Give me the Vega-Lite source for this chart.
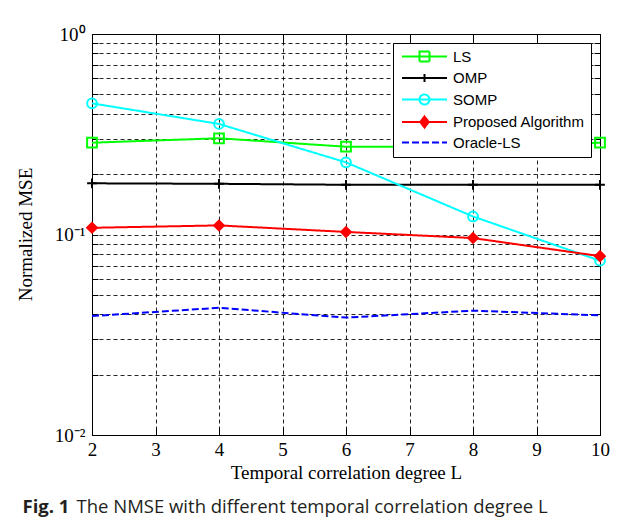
{
  "$schema": "https://vega.github.io/schema/vega-lite/v6.json",
  "width": 508,
  "height": 401,
  "autosize": "none",
  "padding": {"left": 92, "top": 34, "right": 23, "bottom": 89},
  "background": "white",
  "data": {"values": [
    {"L": 2, "series": "LS", "mse": 0.287},
    {"L": 4, "series": "LS", "mse": 0.302},
    {"L": 6, "series": "LS", "mse": 0.274},
    {"L": 8, "series": "LS", "mse": 0.274},
    {"L": 10, "series": "LS", "mse": 0.287},
    {"L": 2, "series": "OMP", "mse": 0.180},
    {"L": 4, "series": "OMP", "mse": 0.179},
    {"L": 6, "series": "OMP", "mse": 0.177},
    {"L": 8, "series": "OMP", "mse": 0.177},
    {"L": 10, "series": "OMP", "mse": 0.177},
    {"L": 2, "series": "SOMP", "mse": 0.451},
    {"L": 4, "series": "SOMP", "mse": 0.356},
    {"L": 6, "series": "SOMP", "mse": 0.229},
    {"L": 8, "series": "SOMP", "mse": 0.123},
    {"L": 10, "series": "SOMP", "mse": 0.074},
    {"L": 2, "series": "Proposed Algorithm", "mse": 0.108},
    {"L": 4, "series": "Proposed Algorithm", "mse": 0.111},
    {"L": 6, "series": "Proposed Algorithm", "mse": 0.103},
    {"L": 8, "series": "Proposed Algorithm", "mse": 0.096},
    {"L": 10, "series": "Proposed Algorithm", "mse": 0.078},
    {"L": 2, "series": "Oracle-LS", "mse": 0.0392},
    {"L": 4, "series": "Oracle-LS", "mse": 0.0431},
    {"L": 6, "series": "Oracle-LS", "mse": 0.0385},
    {"L": 8, "series": "Oracle-LS", "mse": 0.0417},
    {"L": 10, "series": "Oracle-LS", "mse": 0.0395}
  ]},
  "layer": [
    {
      "mark": {"type": "line", "strokeWidth": 2},
      "encoding": {
        "x": {"field": "L", "type": "quantitative", "scale": {"domain": [2, 10], "nice": false, "zero": false},
          "axis": {"orient": "bottom", "values": [2,3,4,5,6,7,8,9,10], "format": "d", "labelFlush": false, "labelOverlap": false,
            "title": "Temporal correlation degree L", "titleFont": "Liberation Serif", "titleFontSize": 19, "titleFontWeight": "normal", "titlePadding": 4,
            "labelFont": "Liberation Serif", "labelFontSize": 19, "tickSize": -8, "labelPadding": 13,
            "grid": true, "gridDash": [4, 3], "gridColor": "#000000", "gridOpacity": 0.85, "gridWidth": 1}},
        "y": {"field": "mse", "type": "quantitative", "scale": {"type": "log", "domain": [0.01, 1], "nice": false},
          "axis": {"orient": "left", "values": [0.01,0.02,0.03,0.04,0.05,0.06,0.07,0.08,0.09,0.1,0.2,0.3,0.4,0.5,0.6,0.7,0.8,0.9,1],
            "labelExpr": "datum.value == 1 ? '10⁰' : datum.value == 0.1 ? '10⁻¹' : datum.value == 0.01 ? '10⁻²' : ''",
            "labelOverlap": false, "labelFont": "Liberation Serif", "labelFontSize": 19, "tickSize": -6, "labelPadding": 13,
            "title": "Normalized MSE", "titleFont": "Liberation Serif", "titleFontSize": 19, "titleFontWeight": "normal", "titleX": -57, "titleY": 200,
            "grid": true, "gridDash": [4, 3], "gridColor": "#000000", "gridOpacity": 0.85, "gridWidth": 1}},
        "color": {"field": "series", "type": "nominal",
          "scale": {"domain": ["LS", "OMP", "SOMP", "Proposed Algorithm", "Oracle-LS"], "range": ["#00ff00", "#000000", "#00ffff", "#ff0000", "#0000ff"]},
          "legend": {"orient": "none", "legendX": 301, "legendY": 9, "title": null, "symbolSize": 100, "symbolStrokeWidth": 2,
            "symbolOffset": 18, "labelOffset": 21, "labelFont": "Liberation Sans", "labelFontSize": 15, "labelColor": "#000000",
            "rowPadding": 3.5, "padding": 6, "strokeColor": "#000000", "fillColor": "#ffffff",
            "encode": {"symbols": {"update": {
              "shape": {"signal": "datum.value === 'LS' ? 'M-4.5,0H4.5M-1,-1H1V1H-1Z' : datum.value === 'OMP' ? 'M-4.5,0H4.5M0,-0.8V0.8' : datum.value === 'SOMP' ? 'M-4.5,0H4.5M1,0A1,1,0,1,1,-1,0A1,1,0,1,1,1,0' : datum.value === 'Proposed Algorithm' ? 'M-4.5,0H4.5M0,-1.1L0.85,0L0,1.1L-0.85,0Z' : 'M-4.5,0H4.5'"},
              "stroke": {"signal": "datum.value === 'LS' ? '#00ff00' : datum.value === 'OMP' ? '#000000' : datum.value === 'SOMP' ? '#00ffff' : datum.value === 'Proposed Algorithm' ? '#ff0000' : '#0000ff'"},
              "fill": {"signal": "datum.value === 'Proposed Algorithm' ? '#ff0000' : 'transparent'"},
              "strokeDash": {"signal": "datum.value === 'Oracle-LS' ? [7, 3] : [1, 0]"},
              "size": {"value": 100},
              "strokeWidth": {"value": 2},
              "opacity": {"value": 1}
            }}}}},
        "strokeDash": {"field": "series", "type": "nominal",
          "scale": {"domain": ["LS", "OMP", "SOMP", "Proposed Algorithm", "Oracle-LS"], "range": [[1, 0], [1, 0], [1, 0], [1, 0], [7, 3]]},
          "legend": null}
      }
    },
    {
      "transform": [{"filter": "datum.series !== 'Oracle-LS'"}],
      "mark": {"type": "point", "size": 95, "strokeWidth": 2, "opacity": 1},
      "encoding": {
        "x": {"field": "L", "type": "quantitative", "axis": null},
        "y": {"field": "mse", "type": "quantitative", "axis": null},
        "stroke": {"field": "series", "type": "nominal",
          "scale": {"domain": ["LS", "OMP", "SOMP", "Proposed Algorithm"], "range": ["#00ff00", "#000000", "#00ffff", "#ff0000"]}, "legend": null},
        "fill": {"field": "series", "type": "nominal",
          "scale": {"domain": ["LS", "OMP", "SOMP", "Proposed Algorithm"], "range": ["transparent", "transparent", "transparent", "#ff0000"]}, "legend": null},
        "shape": {"field": "series", "type": "nominal",
          "scale": {"domain": ["LS", "OMP", "SOMP", "Proposed Algorithm"], "range": ["square", "M0,-1V1M-1,0H1", "circle", "diamond"]}, "legend": null}
      }
    },
    {
      "mark": {"type": "point", "opacity": 0},
      "encoding": {
        "x": {"field": "L", "type": "quantitative",
          "axis": {"orient": "top", "values": [2,3,4,5,6,7,8,9,10], "labels": false, "grid": false, "tickSize": -8,
            "title": "Fig. 1", "titleAngle": 0, "titleAlign": "left", "titleBaseline": "middle",
            "titleX": -70, "titleY": 472, "titleFont": "Open Sans", "titleFontSize": 18.5, "titleFontWeight": "bold", "titleColor": "#231f20"}},
        "y": {"field": "mse", "type": "quantitative",
          "axis": {"orient": "right", "values": [0.01,0.02,0.03,0.04,0.05,0.06,0.07,0.08,0.09,0.1,0.2,0.3,0.4,0.5,0.6,0.7,0.8,0.9,1],
            "labels": false, "grid": false, "tickSize": -6,
            "title": "The NMSE with different temporal correlation degree L", "titleAngle": 0, "titleAlign": "left", "titleBaseline": "middle",
            "titleX": -524, "titleY": 472, "titleFont": "Open Sans", "titleFontSize": 18.5, "titleFontWeight": "normal", "titleColor": "#231f20"}}
      }
    }
  ],
  "resolve": {"axis": {"x": "independent", "y": "independent"}},
  "config": {
    "view": {"stroke": "#000000", "strokeWidth": 1},
    "axis": {"domainColor": "#000000", "tickColor": "#000000", "labelColor": "#000000", "titleColor": "#000000", "domainWidth": 1, "tickWidth": 1}
  }
}
